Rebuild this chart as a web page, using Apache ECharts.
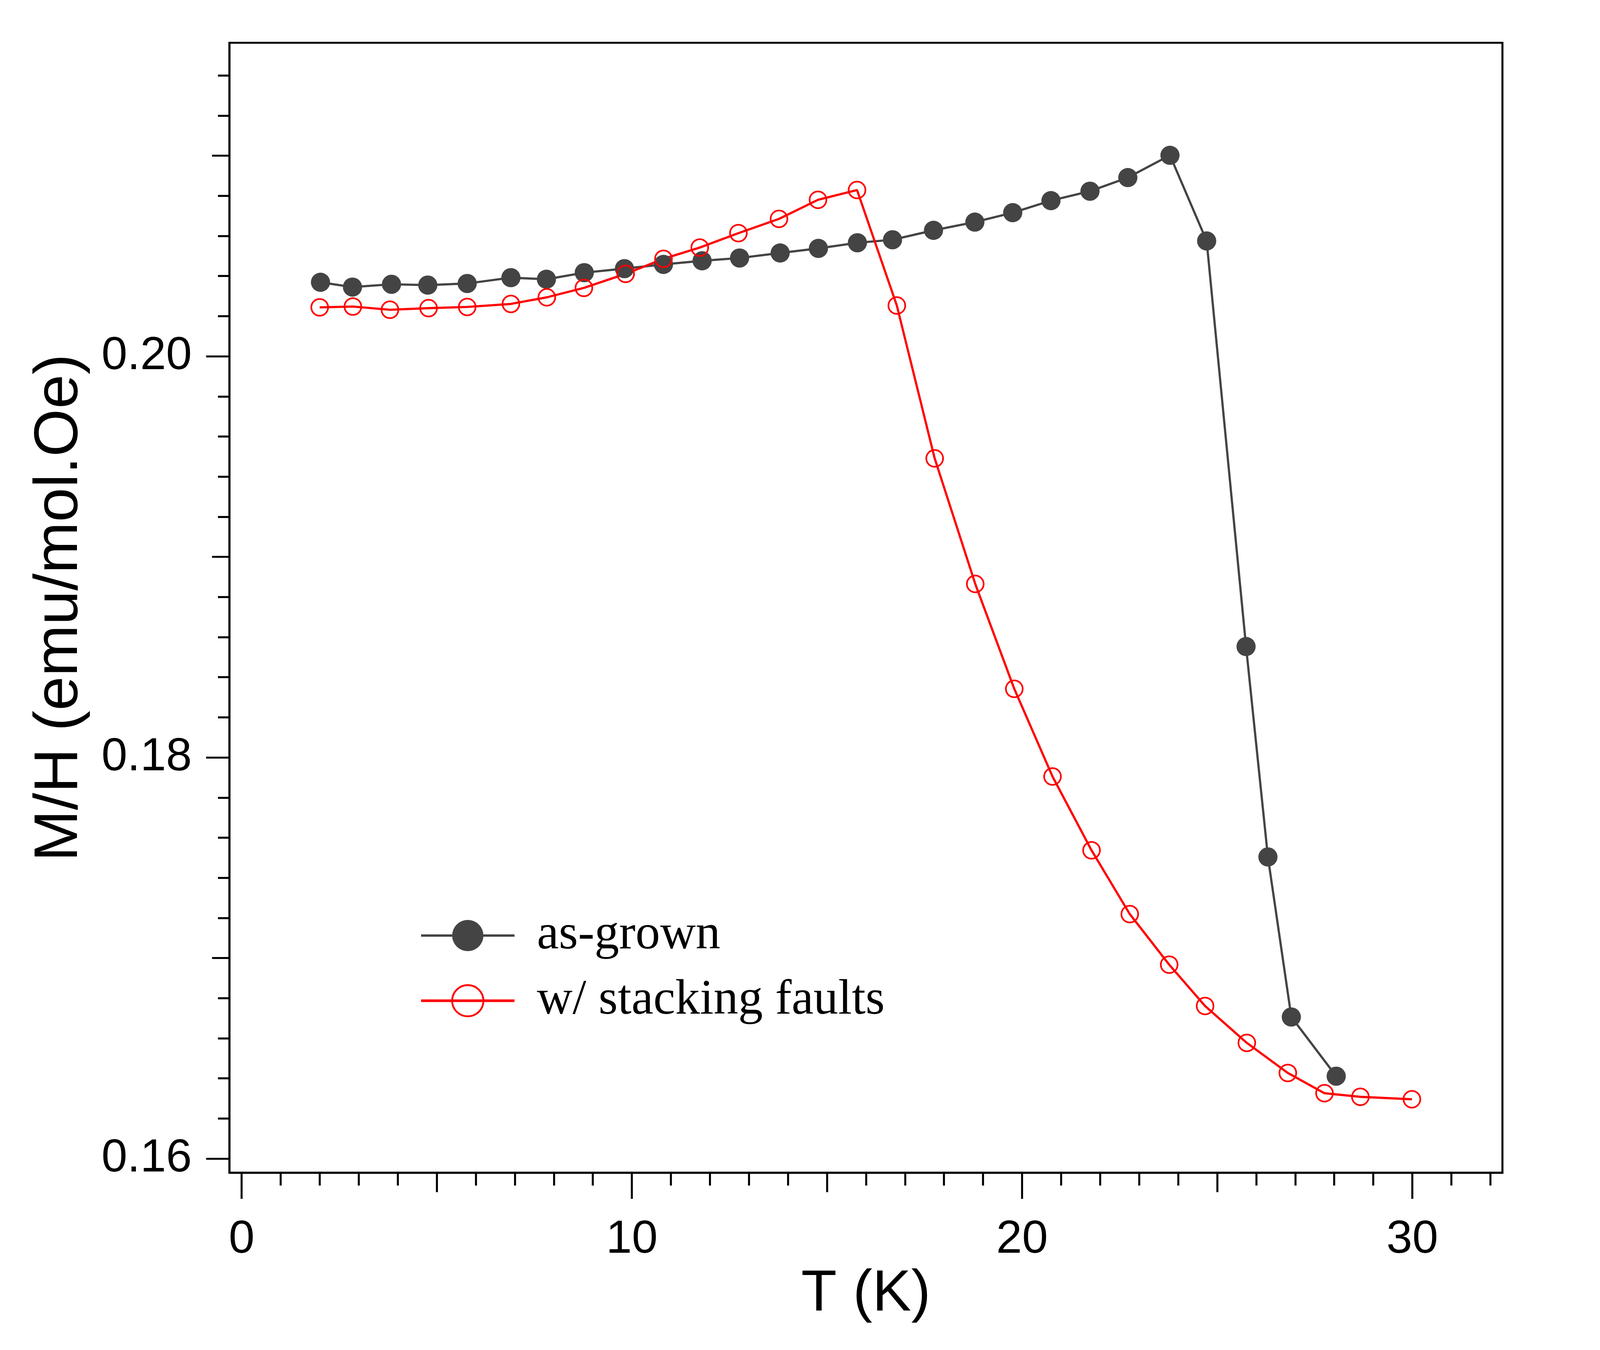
<!DOCTYPE html>
<html>
<head>
<meta charset="utf-8">
<script src="https://cdn.jsdelivr.net/npm/echarts@6/dist/echarts.min.js"></script>
<style>
  html, body { margin: 0; padding: 0; background: #fff; overflow: hidden; }
  #main { width: 100vw; height: 100vh; }
</style>
</head>
<body>
<div id="main"></div>
<script>
// M/H vs T, two samples
var seriesNames = ['as-grown', 'w/ stacking faults'];

var asGrownT = [2.02, 2.84, 3.84, 4.77, 5.78, 6.90, 7.81, 8.78, 9.81, 10.81, 11.80, 12.76, 13.80, 14.78,
    15.78, 16.68, 17.73, 18.79, 19.76, 20.74, 21.74, 22.71, 23.79, 24.73, 25.74, 26.30, 26.90, 28.05];
var asGrownMH = [0.20369, 0.20345, 0.20359, 0.20355, 0.20363, 0.20392, 0.20384, 0.20417, 0.20437, 0.20458,
    0.20476, 0.20490, 0.20515, 0.20538, 0.20566, 0.20581, 0.20628, 0.20669, 0.20716, 0.20776, 0.20823,
    0.20891, 0.21002, 0.20575, 0.18553, 0.17504, 0.16706, 0.16411];

var faultsT = [2.00, 2.85, 3.80, 4.79, 5.78, 6.90, 7.82, 8.77, 9.84, 10.81, 11.74, 12.73, 13.77, 14.77,
    15.77, 16.79, 17.76, 18.80, 19.80, 20.78, 21.78, 22.76, 23.77, 24.69, 25.76, 26.81, 27.75, 28.67, 29.99];
var faultsMH = [0.20244, 0.20248, 0.20232, 0.20240, 0.20246, 0.20261, 0.20294, 0.20341, 0.20411, 0.20486,
    0.20542, 0.20614, 0.20685, 0.20780, 0.20829, 0.20253, 0.19491, 0.18865, 0.18342, 0.17905, 0.17537,
    0.17219, 0.16967, 0.16761, 0.16577, 0.16427, 0.16326, 0.16308, 0.16296];

// tick positions
var xMajorTicks = [0, 10, 20, 30];
var xMidTicks = [5, 15, 25];
var xMinorTicks = [1, 2, 3, 4, 6, 7, 8, 9, 11, 12, 13, 14, 16, 17, 18, 19, 21, 22, 23, 24, 26, 27, 28, 29, 31, 32];
var yMajorTicks = [0.16, 0.18, 0.20];
var yMidTicks = [0.17, 0.19, 0.21];
var yMinorTicks = [0.162, 0.164, 0.166, 0.168, 0.172, 0.174, 0.176, 0.178, 0.182, 0.184, 0.186, 0.188,
    0.192, 0.194, 0.196, 0.198, 0.202, 0.204, 0.206, 0.208, 0.212, 0.214];

var xRange = [-0.314, 32.31];
var yRange = [0.1593, 0.21563];

var chartDom = document.getElementById('main');
var myChart = echarts.init(chartDom, null, { renderer: 'canvas' });

// layout was measured on a 4608x3456 picture; the viewport may be narrower, so scale
// horizontal things by sx, vertical things by sy and the rest by their mean
var sx = chartDom.clientWidth / 4608;
var sy = chartDom.clientHeight / 3456;
var m = (sx + sy) / 2;

function pairs(xs, ys) {
    return xs.map(function (x, i) { return [x, ys[i]]; });
}

var lineW = 5.5 * m;
var sans = 'Liberation Sans';

// one axis per tick length, all stacked on the same side
function xAxisFor(ticks, len, main) {
    return {
        type: 'value',
        gridIndex: 0,
        position: 'bottom',
        min: xRange[0],
        max: xRange[1],
        name: main ? 'T (K)' : '',
        nameLocation: 'middle',
        nameGap: 227 * sy,
        nameTextStyle: { fontFamily: sans, fontSize: 158 * m, color: '#000' },
        axisLine: { show: main, onZero: false, lineStyle: { color: '#000', width: lineW } },
        axisTick: { show: true, inside: false, length: len * sy, customValues: ticks,
            lineStyle: { color: '#000', width: lineW } },
        axisLabel: { show: main, customValues: ticks, margin: 113 * sy,
            fontFamily: sans, fontSize: 126 * m, color: '#000' },
        splitLine: { show: false },
        minorTick: { show: false }
    };
}

function yAxisFor(ticks, len, main) {
    return {
        type: 'value',
        gridIndex: 0,
        position: 'left',
        min: yRange[0],
        max: yRange[1],
        name: main ? 'M/H (emu/mol.Oe)' : '',
        nameLocation: 'middle',
        nameGap: 399 * sx,
        nameTextStyle: { fontFamily: sans, fontSize: 158 * sy, color: '#000' },
        axisLine: { show: main, onZero: false, lineStyle: { color: '#000', width: lineW } },
        axisTick: { show: true, inside: false, length: len * sx, customValues: ticks,
            lineStyle: { color: '#000', width: lineW } },
        axisLabel: { show: main, customValues: ticks, margin: 108 * sx,
            fontFamily: sans, fontSize: 126 * m, color: '#000',
            formatter: function (v) { return v.toFixed(2); } },
        splitLine: { show: false },
        minorTick: { show: false }
    };
}

var option = {
    animation: false,
    backgroundColor: '#fff',
    grid: {
        left: 660.7 * sx,
        right: 281 * sx,
        top: 109.5 * sy,
        bottom: 454 * sy,
        show: true,
        borderColor: '#000',
        borderWidth: lineW,
        backgroundColor: 'transparent'
    },
    xAxis: [
        xAxisFor(xMajorTicks, 67, true),
        xAxisFor(xMidTicks, 50, false),
        xAxisFor(xMinorTicks, 33, false)
    ],
    yAxis: [
        yAxisFor(yMajorTicks, 67, true),
        yAxisFor(yMidTicks, 50, false),
        yAxisFor(yMinorTicks, 33, false)
    ],
    legend: {
        left: 1209 * sx,
        top: 2332 * sy,
        orient: 'vertical',
        padding: 0,
        itemWidth: 269 * sx,
        itemHeight: 106 * m,
        itemGap: (141 - 106 * m) * sy,
        textStyle: { fontFamily: 'Liberation Serif', fontSize: 142 * sx, color: '#000',
            lineHeight: 106 * m, padding: [0, 0, 0, 59 * sx] },
        data: [
            { name: seriesNames[0], itemStyle: { color: '#444444', borderWidth: 0 },
                lineStyle: { color: '#444444', width: 6.5 * m } },
            { name: seriesNames[1], itemStyle: { color: 'transparent', borderColor: '#ff0000', borderWidth: 5 * m },
                lineStyle: { color: '#ff0000', width: 7 * m } }
        ]
    },
    series: [
        {
            name: seriesNames[0],
            type: 'line',
            xAxisIndex: 0,
            yAxisIndex: 0,
            data: pairs(asGrownT, asGrownMH),
            symbol: 'circle',
            symbolSize: 52 * m,
            showAllSymbol: true,
            itemStyle: { color: '#444444' },
            lineStyle: { color: '#444444', width: 6 * m },
            emphasis: { disabled: true }
        },
        {
            name: seriesNames[1],
            type: 'line',
            xAxisIndex: 0,
            yAxisIndex: 0,
            data: pairs(faultsT, faultsMH),
            symbol: 'circle',
            symbolSize: 45.5 * m,
            showAllSymbol: true,
            itemStyle: { color: 'transparent', borderColor: '#ff0000', borderWidth: 4.5 * m },
            lineStyle: { color: '#ff0000', width: 6 * m },
            emphasis: { disabled: true }
        }
    ]
};

option && myChart.setOption(option);
</script>
</body>
</html>
